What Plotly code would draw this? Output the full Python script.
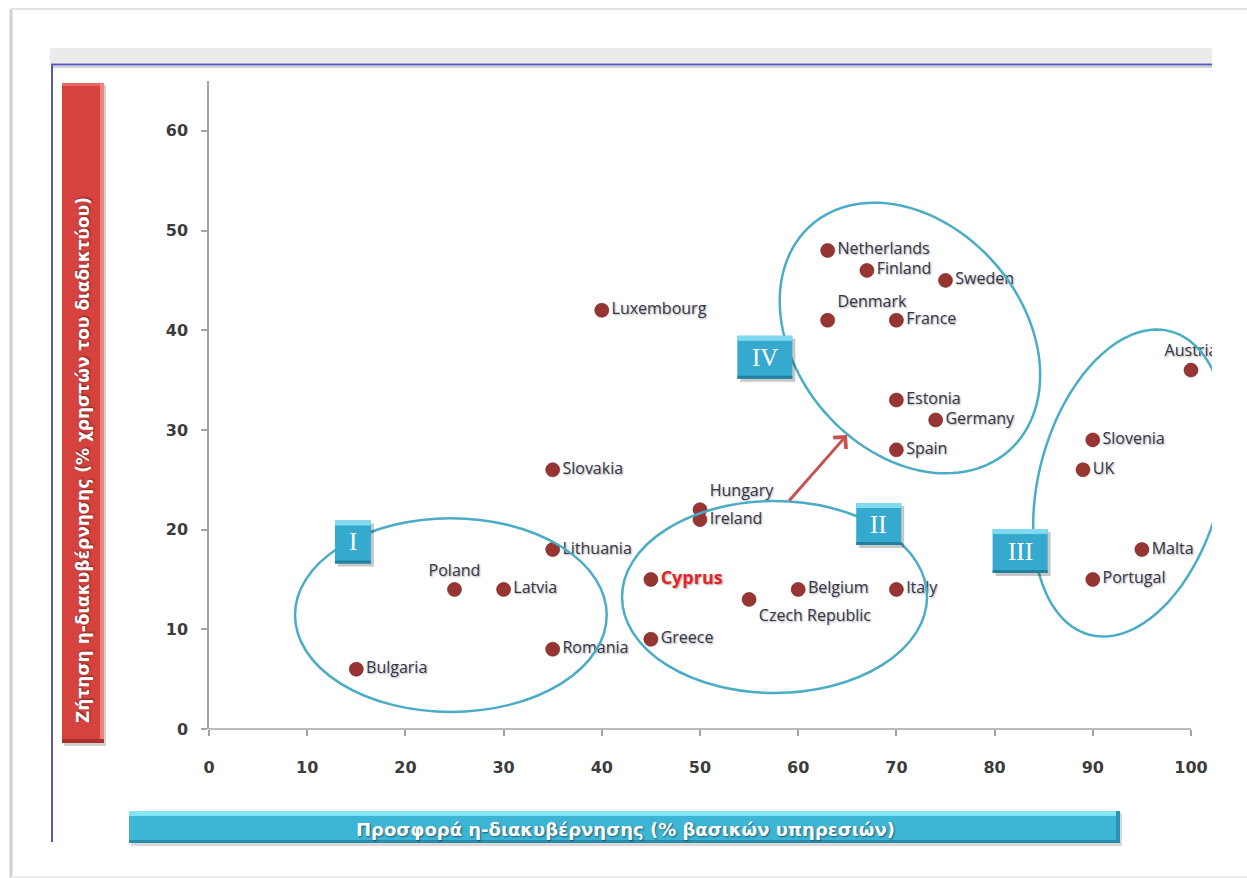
import numpy as np
import plotly.graph_objects as go

# ---- data: e-government supply (x) vs demand (y), EU member states ----
countries = ["Bulgaria", "Poland", "Latvia", "Lithuania", "Romania", "Slovakia",
             "Luxembourg", "Cyprus", "Greece", "Hungary", "Ireland", "Czech Republic",
             "Belgium", "Italy", "Netherlands", "Finland", "Sweden", "Denmark",
             "France", "Estonia", "Germany", "Spain", "Austria", "Slovenia", "UK",
             "Malta", "Portugal"]
supply = [15, 25, 30, 35, 35, 35, 40, 45, 45, 50, 50, 55, 60, 70, 63, 67, 75, 63,
          70, 70, 74, 70, 100, 90, 89, 95, 90]
demand = [6, 14, 14, 18, 8, 26, 42, 15, 9, 22, 21, 13, 14, 14, 48, 46, 45, 41,
          41, 33, 31, 28, 36, 29, 26, 18, 15]
label_side = {"Poland": "top center", "Hungary": "top right",
              "Czech Republic": "bottom right", "Denmark": "top right",
              "Austria": "top center"}
highlight = "Cyprus"

x_ticks = [0, 10, 20, 30, 40, 50, 60, 70, 80, 90, 100]
y_ticks = [0, 10, 20, 30, 40, 50, 60]
x_title = "Προσφορά η-διακυβέρνησης (% βασικών υπηρεσιών)"
y_title = "Ζήτηση η-διακυβέρνησης (% χρηστών του διαδικτύου)"
group_names = ["I", "II", "III", "IV"]

# ---- page geometry (pixels) ----
W, H = 1247, 878
L, R, T, B = 209, 1212, 81, 729          # plot area edges
XMAX, YMAX = 102.14, 65.0
PX_X = (R - L) / XMAX                    # pixels per x unit
PX_Y = (B - T) / YMAX                    # pixels per y unit


def px(x):   # page pixel -> paper x
    return (x - L) / (R - L)


def py(y):   # page pixel -> paper y
    return (B - y) / (B - T)


shapes = []
annotations = []


def prect(x0, y0, x1, y1, fill, layer="above"):
    shapes.append(dict(type="rect", xref="paper", yref="paper",
                       x0=px(x0), x1=px(x1), y0=py(y1), y1=py(y0),
                       fillcolor=fill, line=dict(width=0), layer=layer))


def pline(x0, y0, x1, y1, color, width):
    shapes.append(dict(type="line", xref="paper", yref="paper",
                       x0=px(x0), x1=px(x1), y0=py(y0), y1=py(y1),
                       line=dict(color=color, width=width), layer="above"))


# outer page frame
pline(11, 9, 11, 878, "#cfcfcf", 3)
pline(11, 9, W, 9, "#e2e2e2", 2)
pline(11, 877, W, 877, "#ededed", 2)

# chart frame: grey header band, blue border
prect(50, 48, 1212, 63, "#ebebeb", layer="below")
pline(51, 64.5, 1212, 64.5, "#5656c4", 2)
pline(51, 67, 1212, 67, "#c4c4c4", 1.5)
pline(52, 64, 52, 842, "#5656c4", 2)

# y-axis title bar (red, bevelled)
prect(64, 85, 106, 746, "rgba(0,0,0,0.18)", layer="below")
prect(62, 83, 104, 743, "#d6433f", layer="below")
prect(62, 83, 104, 86, "#e56a66", layer="below")
prect(100, 83, 104, 743, "#ee8581", layer="below")
prect(62, 739, 104, 743, "#a8302d", layer="below")
annotations.append(dict(xref="paper", yref="paper", x=px(83), y=py(460),
                        xanchor="center", yanchor="middle",
                        text=y_title, textangle=-90, showarrow=False,
                        font=dict(family="DejaVu Sans", size=17, color="white",
                                  weight="bold",
                                  shadow="1px 1px 2px rgba(0,0,0,0.45)")))

# x-axis title bar (cyan, bevelled)
prect(131, 813, 1122, 846, "rgba(0,0,0,0.15)", layer="below")
prect(129, 811, 1120, 843, "#3db6d6", layer="below")
prect(129, 811, 1120, 816, "#86e4f7", layer="below")
prect(1116, 811, 1120, 843, "#2b93b3", layer="below")
prect(129, 840, 1120, 843, "#2a8cab", layer="below")
annotations.append(dict(xref="paper", yref="paper", x=px(625), y=py(829),
                        xanchor="center", yanchor="middle",
                        text=x_title, showarrow=False,
                        font=dict(family="DejaVu Sans", size=18, color="white",
                                  weight="bold",
                                  shadow="1px 1px 2px rgba(0,0,0,0.5)")))

# x-axis line ends at 100
shapes.append(dict(type="line", xref="paper", yref="paper",
                   x0=0, x1=100 / XMAX, y0=0, y1=0,
                   line=dict(color="#a3a3a3", width=1.5), layer="above"))

# ---- group ellipses ----
ELL = "#4aacc5"
for (x0, y0, x1, y1) in [(8.76, 1.71, 40.5, 21.15), (42.06, 3.61, 73.12, 22.87)]:
    shapes.append(dict(type="circle", xref="x", yref="y", x0=x0, x1=x1,
                       y0=y0, y1=y1, line=dict(color=ELL, width=2.5),
                       layer="above"))


def tilted_ellipse(cx, cy, a, b, theta_deg):
    """Ellipse centred on data point (cx, cy), semi-axes a, b in pixels,
    rotated theta degrees in screen space (y downward)."""
    t = np.linspace(0, 2 * np.pi, 121)
    th = np.radians(theta_deg)
    ex = a * np.cos(t) * np.cos(th) - b * np.sin(t) * np.sin(th)
    ey = a * np.cos(t) * np.sin(th) + b * np.sin(t) * np.cos(th)
    xs = cx + ex / PX_X
    ys = cy - ey / PX_Y
    d = "M" + " L".join(f"{x:.3f},{y:.3f}" for x, y in zip(xs, ys)) + " Z"
    return dict(type="path", xref="x", yref="y", path=d,
                line=dict(color=ELL, width=2.5), layer="above")


shapes.append(tilted_ellipse(71.38, 39.22, 150, 113, 49))     # group IV
shapes.append(tilted_ellipse(93.79, 24.67, 157, 91, -75))     # group III


# ---- roman-numeral group boxes ----
def group_box(label, cx, cy, w, h):
    hx, hy = w / 2 / PX_X, h / 2 / PX_Y
    sx, sy = 3 / PX_X, 3 / PX_Y
    shapes.append(dict(type="rect", xref="x", yref="y",
                       x0=cx - hx + sx, x1=cx + hx + sx,
                       y0=cy - hy - sy, y1=cy + hy - sy,
                       fillcolor="rgba(0,0,0,0.22)", line=dict(width=0),
                       layer="above"))
    shapes.append(dict(type="rect", xref="x", yref="y",
                       x0=cx - hx, x1=cx + hx, y0=cy - hy, y1=cy + hy,
                       fillcolor="#35aace", line=dict(width=0), layer="above"))
    shapes.append(dict(type="rect", xref="x", yref="y",
                       x0=cx - hx, x1=cx + hx, y0=cy + hy - 5 / PX_Y, y1=cy + hy,
                       fillcolor="#7fd9ef", line=dict(width=0), layer="above"))
    shapes.append(dict(type="rect", xref="x", yref="y",
                       x0=cx - hx, x1=cx + hx, y0=cy - hy, y1=cy - hy + 3 / PX_Y,
                       fillcolor="#23809f", line=dict(width=0), layer="above"))
    annotations.append(dict(xref="x", yref="y", x=cx, y=cy, text=label,
                            xanchor="center", yanchor="middle",
                            showarrow=False,
                            font=dict(family="Liberation Serif", size=25,
                                      color="white")))


group_box(group_names[0], 14.66, 18.76, 36, 43)
group_box(group_names[1], 68.2, 20.56, 45, 42)
group_box(group_names[2], 82.6, 17.85, 55, 44)
group_box(group_names[3], 56.6, 37.3, 55, 43)

# arrow from group II toward group IV
annotations.append(dict(xref="x", yref="y", axref="x", ayref="y",
                        x=64.97, y=29.5, ax=58.96, ay=22.77, text="",
                        showarrow=True, arrowhead=4, arrowsize=1.1,
                        arrowwidth=3, arrowcolor="#c9504c"))

# ---- scatter of countries ----
positions = [label_side.get(c, "middle right") for c in countries]
txt_color = ["#e0252b" if c == highlight else "#36364a" for c in countries]
txt_size = [18 if c == highlight else 16 for c in countries]
txt_weight = ["bold" if c == highlight else "normal" for c in countries]

fig = go.Figure()
fig.add_trace(go.Scatter(
    x=supply, y=demand, mode="markers+text", text=countries,
    textposition=positions, cliponaxis=True,
    marker=dict(size=14, color="#973533",
                line=dict(width=1, color="rgba(120,30,30,0.6)")),
    textfont=dict(family="Open Sans", size=txt_size, color=txt_color,
                  weight=txt_weight,
                  shadow="1px 1px 2px rgba(0,0,0,0.35)"),
    hoverinfo="text", showlegend=False))

tick_font = dict(family="DejaVu Sans", size=16, color="#3c3c3c", weight="bold")
fig.update_layout(
    width=W, height=H, autosize=False,
    margin=dict(l=L, r=W - R, t=T, b=H - B, pad=0),
    paper_bgcolor="white", plot_bgcolor="white",
    showlegend=False,
    xaxis=dict(range=[0, XMAX], tickmode="array", tickvals=x_ticks,
               ticks="outside", ticklen=6, tickwidth=1.5, tickcolor="#a3a3a3",
               showline=False, showgrid=False, zeroline=False,
               tickfont=tick_font, ticklabelstandoff=18, fixedrange=True),
    yaxis=dict(range=[0, YMAX], tickmode="array", tickvals=y_ticks,
               ticks="outside", ticklen=6, tickwidth=1.5, tickcolor="#a3a3a3",
               showline=True, linecolor="#a3a3a3", linewidth=1.5,
               showgrid=False, zeroline=False,
               tickfont=tick_font, ticklabelstandoff=10, fixedrange=True),
    shapes=shapes, annotations=annotations,
)

fig.write_html("out.html")
